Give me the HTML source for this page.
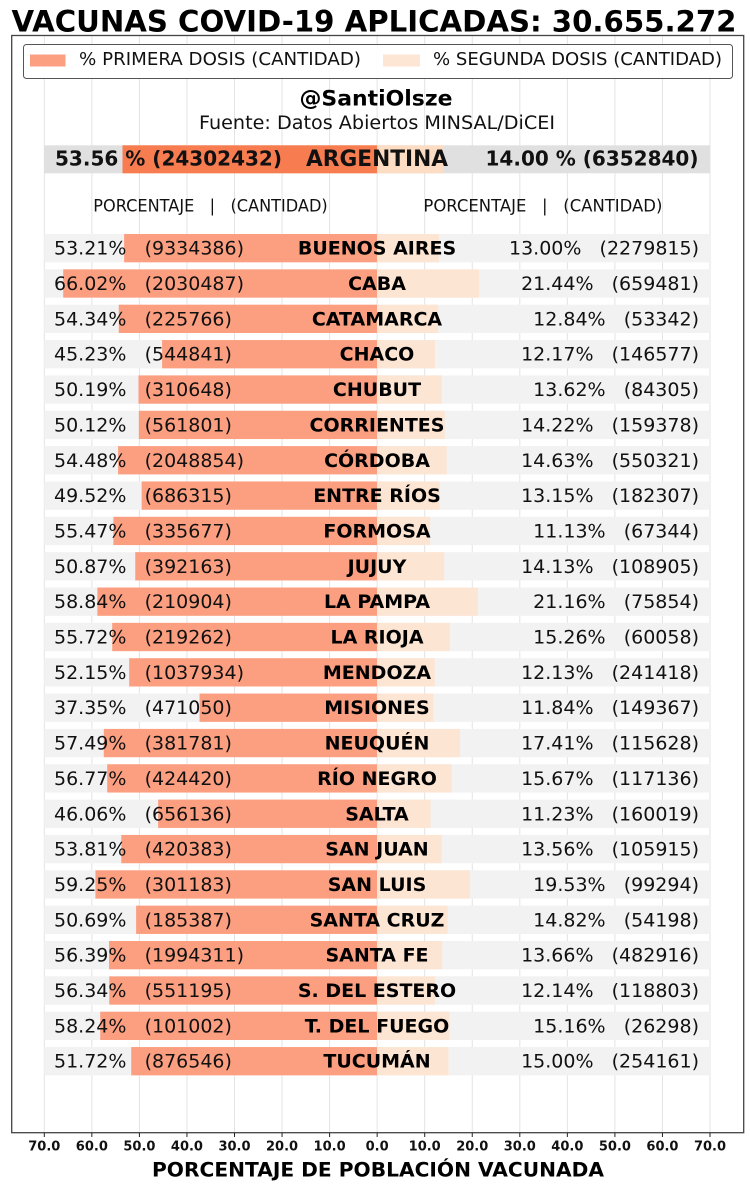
<!DOCTYPE html>
<html>
<head>
<meta charset="utf-8">
<style>
html,body{margin:0;padding:0;background:#fff;}
svg{display:block;}
text{font-family:"DejaVu Sans","Liberation Sans",sans-serif;white-space:pre;}
.d{font-size:19px;fill:#111;}
.n{font-size:19px;font-weight:bold;fill:#000;}
.tk{font-size:13px;font-weight:bold;fill:#111;}
</style>
</head>
<body>
<svg width="750" height="1188" viewBox="0 0 750 1188" xmlns="http://www.w3.org/2000/svg" xml:space="preserve">
<rect x="0" y="0" width="750" height="1188" fill="#fff"/>

<!-- Title -->
<text x="374" y="31.5" text-anchor="middle" font-size="29.5" font-weight="bold" fill="#000" textLength="725" lengthAdjust="spacingAndGlyphs">VACUNAS COVID-19 APLICADAS: 30.655.272</text>

<!-- gridlines -->
<g stroke="#e3e3e3" stroke-width="1">
<line x1="44.3" y1="36" x2="44.3" y2="1133"/>
<line x1="91.85" y1="36" x2="91.85" y2="1133"/>
<line x1="139.4" y1="36" x2="139.4" y2="1133"/>
<line x1="186.95" y1="36" x2="186.95" y2="1133"/>
<line x1="234.5" y1="36" x2="234.5" y2="1133"/>
<line x1="282.05" y1="36" x2="282.05" y2="1133"/>
<line x1="329.6" y1="36" x2="329.6" y2="1133"/>
<line x1="377.15" y1="36" x2="377.15" y2="1133"/>
<line x1="424.7" y1="36" x2="424.7" y2="1133"/>
<line x1="472.25" y1="36" x2="472.25" y2="1133"/>
<line x1="519.8" y1="36" x2="519.8" y2="1133"/>
<line x1="567.35" y1="36" x2="567.35" y2="1133"/>
<line x1="614.9" y1="36" x2="614.9" y2="1133"/>
<line x1="662.45" y1="36" x2="662.45" y2="1133"/>
<line x1="710" y1="36" x2="710" y2="1133"/>
</g>

<!-- Legend -->
<rect x="23.5" y="44.5" width="709" height="34" rx="3" fill="#fff" fill-opacity="0.9" stroke="#555" stroke-width="1"/>
<rect x="30" y="54.5" width="35.5" height="12" fill="#fc9f80"/>
<text x="79" y="65" font-size="18" fill="#111" textLength="282" lengthAdjust="spacingAndGlyphs">% PRIMERA DOSIS (CANTIDAD)</text>
<rect x="383" y="54.5" width="37" height="12" fill="#fde6d4"/>
<text x="433" y="65" font-size="18" fill="#111" textLength="289" lengthAdjust="spacingAndGlyphs">% SEGUNDA DOSIS (CANTIDAD)</text>

<!-- Subtitle -->
<text x="376" y="105.5" text-anchor="middle" font-size="21" font-weight="bold" fill="#000" textLength="153" lengthAdjust="spacingAndGlyphs">@SantiOlsze</text>
<text x="377" y="129" text-anchor="middle" font-size="18.5" fill="#111" textLength="356" lengthAdjust="spacingAndGlyphs">Fuente: Datos Abiertos MINSAL/DiCEI</text>

<!-- Argentina -->
<rect x="44.3" y="145.3" width="665.7" height="28" fill="#e0e0e0"/>
<rect x="122.5" y="145.3" width="254.65" height="28" fill="#f77c4f"/>
<rect x="377.15" y="145.3" width="66.57" height="28" fill="#fcdcc2"/>
<text x="55" y="165.5" font-size="20" font-weight="bold" fill="#111" textLength="227" lengthAdjust="spacingAndGlyphs">53.56 % (24302432)</text>
<text x="377" y="166" text-anchor="middle" font-size="22" font-weight="bold" fill="#111" textLength="142" lengthAdjust="spacingAndGlyphs">ARGENTINA</text>
<text x="698.5" y="165.5" text-anchor="end" font-size="20" font-weight="bold" fill="#111" textLength="213" lengthAdjust="spacingAndGlyphs">14.00 % (6352840)</text>

<!-- Header -->
<text x="93.3" y="211.7" font-size="16.5" fill="#111" textLength="234.4" lengthAdjust="spacingAndGlyphs">PORCENTAJE   |   (CANTIDAD)</text>
<text x="423.4" y="211.7" font-size="16.5" fill="#111" textLength="239" lengthAdjust="spacingAndGlyphs">PORCENTAJE   |   (CANTIDAD)</text>

<!-- Rows -->
<g transform="translate(0,234)"><rect x="44.3" y="0" width="665.7" height="28.3" fill="#f2f2f2"/><rect x="124.14" y="0" width="253.01" height="28.3" fill="#fc9f80"/><rect x="377.15" y="0" width="61.82" height="28.3" fill="#fde5d3"/><text class="d" x="54" y="20.7">53.21%   (9334386)</text><text class="n" x="377" y="20.7" text-anchor="middle">BUENOS AIRES</text><text class="d" x="699" y="20.7" text-anchor="end">13.00%   (2279815)</text></g>

<g transform="translate(0,269.35)"><rect x="44.3" y="0" width="665.7" height="28.3" fill="#f2f2f2"/><rect x="63.22" y="0" width="313.93" height="28.3" fill="#fc9f80"/><rect x="377.15" y="0" width="101.95" height="28.3" fill="#fde5d3"/><text class="d" x="54" y="20.7">66.02%   (2030487)</text><text class="n" x="377" y="20.7" text-anchor="middle">CABA</text><text class="d" x="699" y="20.7" text-anchor="end">21.44%   (659481)</text></g>

<g transform="translate(0,304.7)"><rect x="44.3" y="0" width="665.7" height="28.3" fill="#f2f2f2"/><rect x="118.76" y="0" width="258.39" height="28.3" fill="#fc9f80"/><rect x="377.15" y="0" width="61.05" height="28.3" fill="#fde5d3"/><text class="d" x="54" y="20.7">54.34%   (225766)</text><text class="n" x="377" y="20.7" text-anchor="middle">CATAMARCA</text><text class="d" x="699" y="20.7" text-anchor="end">12.84%   (53342)</text></g>

<g transform="translate(0,340.05)"><rect x="44.3" y="0" width="665.7" height="28.3" fill="#f2f2f2"/><rect x="162.08" y="0" width="215.07" height="28.3" fill="#fc9f80"/><rect x="377.15" y="0" width="57.87" height="28.3" fill="#fde5d3"/><text class="d" x="54" y="20.7">45.23%   (544841)</text><text class="n" x="377" y="20.7" text-anchor="middle">CHACO</text><text class="d" x="699" y="20.7" text-anchor="end">12.17%   (146577)</text></g>

<g transform="translate(0,375.4)"><rect x="44.3" y="0" width="665.7" height="28.3" fill="#f2f2f2"/><rect x="138.5" y="0" width="238.65" height="28.3" fill="#fc9f80"/><rect x="377.15" y="0" width="64.76" height="28.3" fill="#fde5d3"/><text class="d" x="54" y="20.7">50.19%   (310648)</text><text class="n" x="377" y="20.7" text-anchor="middle">CHUBUT</text><text class="d" x="699" y="20.7" text-anchor="end">13.62%   (84305)</text></g>

<g transform="translate(0,410.75)"><rect x="44.3" y="0" width="665.7" height="28.3" fill="#f2f2f2"/><rect x="138.83" y="0" width="238.32" height="28.3" fill="#fc9f80"/><rect x="377.15" y="0" width="67.62" height="28.3" fill="#fde5d3"/><text class="d" x="54" y="20.7">50.12%   (561801)</text><text class="n" x="377" y="20.7" text-anchor="middle">CORRIENTES</text><text class="d" x="699" y="20.7" text-anchor="end">14.22%   (159378)</text></g>

<g transform="translate(0,446.1)"><rect x="44.3" y="0" width="665.7" height="28.3" fill="#f2f2f2"/><rect x="118.1" y="0" width="259.05" height="28.3" fill="#fc9f80"/><rect x="377.15" y="0" width="69.57" height="28.3" fill="#fde5d3"/><text class="d" x="54" y="20.7">54.48%   (2048854)</text><text class="n" x="377" y="20.7" text-anchor="middle">CÓRDOBA</text><text class="d" x="699" y="20.7" text-anchor="end">14.63%   (550321)</text></g>

<g transform="translate(0,481.45)"><rect x="44.3" y="0" width="665.7" height="28.3" fill="#f2f2f2"/><rect x="141.68" y="0" width="235.47" height="28.3" fill="#fc9f80"/><rect x="377.15" y="0" width="62.53" height="28.3" fill="#fde5d3"/><text class="d" x="54" y="20.7">49.52%   (686315)</text><text class="n" x="377" y="20.7" text-anchor="middle">ENTRE RÍOS</text><text class="d" x="699" y="20.7" text-anchor="end">13.15%   (182307)</text></g>

<g transform="translate(0,516.8)"><rect x="44.3" y="0" width="665.7" height="28.3" fill="#f2f2f2"/><rect x="113.39" y="0" width="263.76" height="28.3" fill="#fc9f80"/><rect x="377.15" y="0" width="52.92" height="28.3" fill="#fde5d3"/><text class="d" x="54" y="20.7">55.47%   (335677)</text><text class="n" x="377" y="20.7" text-anchor="middle">FORMOSA</text><text class="d" x="699" y="20.7" text-anchor="end">11.13%   (67344)</text></g>

<g transform="translate(0,552.15)"><rect x="44.3" y="0" width="665.7" height="28.3" fill="#f2f2f2"/><rect x="135.26" y="0" width="241.89" height="28.3" fill="#fc9f80"/><rect x="377.15" y="0" width="67.19" height="28.3" fill="#fde5d3"/><text class="d" x="54" y="20.7">50.87%   (392163)</text><text class="n" x="377" y="20.7" text-anchor="middle">JUJUY</text><text class="d" x="699" y="20.7" text-anchor="end">14.13%   (108905)</text></g>

<g transform="translate(0,587.5)"><rect x="44.3" y="0" width="665.7" height="28.3" fill="#f2f2f2"/><rect x="97.37" y="0" width="279.78" height="28.3" fill="#fc9f80"/><rect x="377.15" y="0" width="100.62" height="28.3" fill="#fde5d3"/><text class="d" x="54" y="20.7">58.84%   (210904)</text><text class="n" x="377" y="20.7" text-anchor="middle">LA PAMPA</text><text class="d" x="699" y="20.7" text-anchor="end">21.16%   (75854)</text></g>

<g transform="translate(0,622.85)"><rect x="44.3" y="0" width="665.7" height="28.3" fill="#f2f2f2"/><rect x="112.2" y="0" width="264.95" height="28.3" fill="#fc9f80"/><rect x="377.15" y="0" width="72.56" height="28.3" fill="#fde5d3"/><text class="d" x="54" y="20.7">55.72%   (219262)</text><text class="n" x="377" y="20.7" text-anchor="middle">LA RIOJA</text><text class="d" x="699" y="20.7" text-anchor="end">15.26%   (60058)</text></g>

<g transform="translate(0,658.2)"><rect x="44.3" y="0" width="665.7" height="28.3" fill="#f2f2f2"/><rect x="129.18" y="0" width="247.97" height="28.3" fill="#fc9f80"/><rect x="377.15" y="0" width="57.68" height="28.3" fill="#fde5d3"/><text class="d" x="54" y="20.7">52.15%   (1037934)</text><text class="n" x="377" y="20.7" text-anchor="middle">MENDOZA</text><text class="d" x="699" y="20.7" text-anchor="end">12.13%   (241418)</text></g>

<g transform="translate(0,693.55)"><rect x="44.3" y="0" width="665.7" height="28.3" fill="#f2f2f2"/><rect x="199.55" y="0" width="177.6" height="28.3" fill="#fc9f80"/><rect x="377.15" y="0" width="56.3" height="28.3" fill="#fde5d3"/><text class="d" x="54" y="20.7">37.35%   (471050)</text><text class="n" x="377" y="20.7" text-anchor="middle">MISIONES</text><text class="d" x="699" y="20.7" text-anchor="end">11.84%   (149367)</text></g>

<g transform="translate(0,728.9)"><rect x="44.3" y="0" width="665.7" height="28.3" fill="#f2f2f2"/><rect x="103.79" y="0" width="273.36" height="28.3" fill="#fc9f80"/><rect x="377.15" y="0" width="82.79" height="28.3" fill="#fde5d3"/><text class="d" x="54" y="20.7">57.49%   (381781)</text><text class="n" x="377" y="20.7" text-anchor="middle">NEUQUÉN</text><text class="d" x="699" y="20.7" text-anchor="end">17.41%   (115628)</text></g>

<g transform="translate(0,764.25)"><rect x="44.3" y="0" width="665.7" height="28.3" fill="#f2f2f2"/><rect x="107.21" y="0" width="269.94" height="28.3" fill="#fc9f80"/><rect x="377.15" y="0" width="74.51" height="28.3" fill="#fde5d3"/><text class="d" x="54" y="20.7">56.77%   (424420)</text><text class="n" x="377" y="20.7" text-anchor="middle">RÍO NEGRO</text><text class="d" x="699" y="20.7" text-anchor="end">15.67%   (117136)</text></g>

<g transform="translate(0,799.6)"><rect x="44.3" y="0" width="665.7" height="28.3" fill="#f2f2f2"/><rect x="158.13" y="0" width="219.02" height="28.3" fill="#fc9f80"/><rect x="377.15" y="0" width="53.4" height="28.3" fill="#fde5d3"/><text class="d" x="54" y="20.7">46.06%   (656136)</text><text class="n" x="377" y="20.7" text-anchor="middle">SALTA</text><text class="d" x="699" y="20.7" text-anchor="end">11.23%   (160019)</text></g>

<g transform="translate(0,834.95)"><rect x="44.3" y="0" width="665.7" height="28.3" fill="#f2f2f2"/><rect x="121.28" y="0" width="255.87" height="28.3" fill="#fc9f80"/><rect x="377.15" y="0" width="64.48" height="28.3" fill="#fde5d3"/><text class="d" x="54" y="20.7">53.81%   (420383)</text><text class="n" x="377" y="20.7" text-anchor="middle">SAN JUAN</text><text class="d" x="699" y="20.7" text-anchor="end">13.56%   (105915)</text></g>

<g transform="translate(0,870.3)"><rect x="44.3" y="0" width="665.7" height="28.3" fill="#f2f2f2"/><rect x="95.42" y="0" width="281.73" height="28.3" fill="#fc9f80"/><rect x="377.15" y="0" width="92.87" height="28.3" fill="#fde5d3"/><text class="d" x="54" y="20.7">59.25%   (301183)</text><text class="n" x="377" y="20.7" text-anchor="middle">SAN LUIS</text><text class="d" x="699" y="20.7" text-anchor="end">19.53%   (99294)</text></g>

<g transform="translate(0,905.65)"><rect x="44.3" y="0" width="665.7" height="28.3" fill="#f2f2f2"/><rect x="136.12" y="0" width="241.03" height="28.3" fill="#fc9f80"/><rect x="377.15" y="0" width="70.47" height="28.3" fill="#fde5d3"/><text class="d" x="54" y="20.7">50.69%   (185387)</text><text class="n" x="377" y="20.7" text-anchor="middle">SANTA CRUZ</text><text class="d" x="699" y="20.7" text-anchor="end">14.82%   (54198)</text></g>

<g transform="translate(0,941)"><rect x="44.3" y="0" width="665.7" height="28.3" fill="#f2f2f2"/><rect x="109.02" y="0" width="268.13" height="28.3" fill="#fc9f80"/><rect x="377.15" y="0" width="64.95" height="28.3" fill="#fde5d3"/><text class="d" x="54" y="20.7">56.39%   (1994311)</text><text class="n" x="377" y="20.7" text-anchor="middle">SANTA FE</text><text class="d" x="699" y="20.7" text-anchor="end">13.66%   (482916)</text></g>

<g transform="translate(0,976.35)"><rect x="44.3" y="0" width="665.7" height="28.3" fill="#f2f2f2"/><rect x="109.25" y="0" width="267.9" height="28.3" fill="#fc9f80"/><rect x="377.15" y="0" width="57.73" height="28.3" fill="#fde5d3"/><text class="d" x="54" y="20.7">56.34%   (551195)</text><text class="n" x="377" y="20.7" text-anchor="middle">S. DEL ESTERO</text><text class="d" x="699" y="20.7" text-anchor="end">12.14%   (118803)</text></g>

<g transform="translate(0,1011.7)"><rect x="44.3" y="0" width="665.7" height="28.3" fill="#f2f2f2"/><rect x="100.22" y="0" width="276.93" height="28.3" fill="#fc9f80"/><rect x="377.15" y="0" width="72.09" height="28.3" fill="#fde5d3"/><text class="d" x="54" y="20.7">58.24%   (101002)</text><text class="n" x="377" y="20.7" text-anchor="middle">T. DEL FUEGO</text><text class="d" x="699" y="20.7" text-anchor="end">15.16%   (26298)</text></g>

<g transform="translate(0,1047.05)"><rect x="44.3" y="0" width="665.7" height="28.3" fill="#f2f2f2"/><rect x="131.22" y="0" width="245.93" height="28.3" fill="#fc9f80"/><rect x="377.15" y="0" width="71.33" height="28.3" fill="#fde5d3"/><text class="d" x="54" y="20.7">51.72%   (876546)</text><text class="n" x="377" y="20.7" text-anchor="middle">TUCUMÁN</text><text class="d" x="699" y="20.7" text-anchor="end">15.00%   (254161)</text></g>

<!-- Frame -->
<rect x="11.7" y="35.5" width="732" height="1097.2" fill="none" stroke="#444" stroke-width="1.3"/>

<!-- ticks -->
<g stroke="#222" stroke-width="1">
<line x1="44.3" y1="1133" x2="44.3" y2="1137"/>
<line x1="91.85" y1="1133" x2="91.85" y2="1137"/>
<line x1="139.4" y1="1133" x2="139.4" y2="1137"/>
<line x1="186.95" y1="1133" x2="186.95" y2="1137"/>
<line x1="234.5" y1="1133" x2="234.5" y2="1137"/>
<line x1="282.05" y1="1133" x2="282.05" y2="1137"/>
<line x1="329.6" y1="1133" x2="329.6" y2="1137"/>
<line x1="377.15" y1="1133" x2="377.15" y2="1137"/>
<line x1="424.7" y1="1133" x2="424.7" y2="1137"/>
<line x1="472.25" y1="1133" x2="472.25" y2="1137"/>
<line x1="519.8" y1="1133" x2="519.8" y2="1137"/>
<line x1="567.35" y1="1133" x2="567.35" y2="1137"/>
<line x1="614.9" y1="1133" x2="614.9" y2="1137"/>
<line x1="662.45" y1="1133" x2="662.45" y2="1137"/>
<line x1="710" y1="1133" x2="710" y2="1137"/>
</g>
<g text-anchor="middle">
<text class="tk" x="44.3" y="1150.7">70.0</text>
<text class="tk" x="91.85" y="1150.7">60.0</text>
<text class="tk" x="139.4" y="1150.7">50.0</text>
<text class="tk" x="186.95" y="1150.7">40.0</text>
<text class="tk" x="234.5" y="1150.7">30.0</text>
<text class="tk" x="282.05" y="1150.7">20.0</text>
<text class="tk" x="329.6" y="1150.7">10.0</text>
<text class="tk" x="377.15" y="1150.7">0.0</text>
<text class="tk" x="424.7" y="1150.7">10.0</text>
<text class="tk" x="472.25" y="1150.7">20.0</text>
<text class="tk" x="519.8" y="1150.7">30.0</text>
<text class="tk" x="567.35" y="1150.7">40.0</text>
<text class="tk" x="614.9" y="1150.7">50.0</text>
<text class="tk" x="662.45" y="1150.7">60.0</text>
<text class="tk" x="710" y="1150.7">70.0</text>
</g>

<text x="378" y="1176.3" text-anchor="middle" font-size="19.5" font-weight="bold" fill="#000" textLength="452" lengthAdjust="spacingAndGlyphs">PORCENTAJE DE POBLACIÓN VACUNADA</text>
</svg>
</body>
</html>
